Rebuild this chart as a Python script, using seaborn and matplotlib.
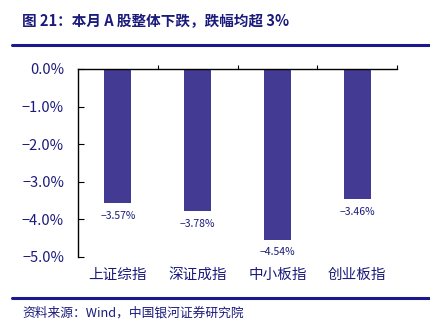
import matplotlib
matplotlib.use("Agg")
import matplotlib.pyplot as plt
import seaborn as sns
import pandas as pd
from matplotlib.ticker import FuncFormatter, FixedLocator

sns.set_theme(style="white")
plt.rcParams['font.family'] = ['Noto Sans CJK SC', 'DejaVu Sans']
plt.rcParams['axes.unicode_minus'] = True

# Monthly change of the major A-share indices (%)
categories = ["上证综指", "深证成指", "中小板指", "创业板指"]
changes = [-3.57, -3.78, -4.54, -3.46]
value_labels = ["-3.57%", "-3.78%", "-4.54%", "-3.46%"]
y_ticks = [0.0, -1.0, -2.0, -3.0, -4.0, -5.0]

navy = "#1b1b7c"
bar_color = "#433a93"

df = pd.DataFrame({"index": categories, "change": changes})

fig = plt.figure(figsize=(4.3, 3.23), dpi=100)
ax = fig.add_axes([78 / 430, 1 - 257 / 323, (397 - 78) / 430, (257 - 69) / 323])

sns.barplot(data=df, x="index", y="change", color=bar_color, width=0.34,
            saturation=1, ax=ax, edgecolor="none")

ax.set_ylim(-5.0, 0.0)
ax.set_xlim(-0.5, 3.5)
ax.set_yticks(y_ticks)
ax.yaxis.set_major_formatter(FuncFormatter(lambda v, p: f"{v:.1f}%".replace("-", "\u2212")))
ax.set_xlabel("")
ax.set_ylabel("")

for s in ["right", "bottom"]:
    ax.spines[s].set_visible(False)
for s in ["left", "top"]:
    ax.spines[s].set_color("black")
    ax.spines[s].set_linewidth(1.0)

ax.tick_params(axis="y", direction="in", length=4, width=0.8, color="black",
               labelsize=10.5, labelcolor=navy, left=True, pad=10)
ax.tick_params(axis="x", which="major", bottom=False, top=False, labelsize=10.5,
               labelcolor=navy, pad=2)
# small upward ticks on the zero line between categories
ax.xaxis.set_minor_locator(FixedLocator([0.5, 1.5, 2.5, 3.5]))
ax.tick_params(axis="x", which="minor", bottom=False, top=True, direction="out",
               length=3, width=0.8, color="black")

for i, (v, lab) in enumerate(zip(changes, value_labels)):
    ax.text(i, v - 0.33, lab.replace("-", "\u2212"), ha="center", va="center",
            fontsize=7.5, color=navy)

# Title, rules and source note
fig.text(22 / 430, 1 - 21 / 323, "图 21：本月 A 股整体下跌，跌幅均超 3%", fontsize=10.5,
         fontweight="bold", color=navy, va="center", ha="left")
fig.add_artist(plt.Line2D([12 / 430, 1.0], [1 - 45 / 323] * 2, color="#1a1a8c", lw=2.2,
                          transform=fig.transFigure))
fig.add_artist(plt.Line2D([12 / 430, 1.0], [1 - 298 / 323] * 2, color="#1a1a8c", lw=2.2,
                          transform=fig.transFigure))
fig.text(22 / 430, 1 - 313 / 323, "资料来源：Wind，中国银河证券研究院", fontsize=9.2,
         style="italic", color=navy, va="center", ha="left")

fig.savefig("out.png", dpi=100)
